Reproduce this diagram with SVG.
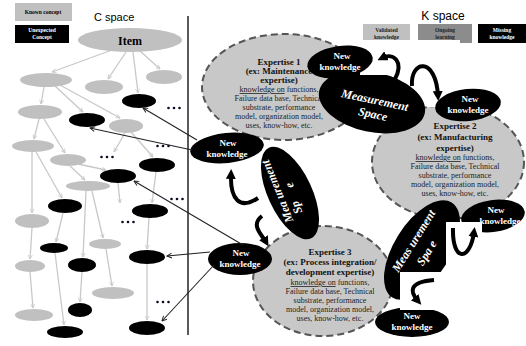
<svg xmlns="http://www.w3.org/2000/svg" width="526" height="346" viewBox="0 0 526 346">
<defs>
<marker id="ga" viewBox="0 0 10 10" refX="9" refY="5" markerWidth="5" markerHeight="5" orient="auto" markerUnits="userSpaceOnUse"><path d="M1,1 L9,5 L1,9" fill="none" stroke="#c8c8c8" stroke-width="1.6"/></marker>
<marker id="ba" viewBox="0 0 10 10" refX="9" refY="5" markerWidth="6" markerHeight="6" orient="auto" markerUnits="userSpaceOnUse"><path d="M1,1 L9,5 L1,9" fill="none" stroke="#222" stroke-width="1.6"/></marker>
<marker id="ta" viewBox="0 0 10 10" refX="5" refY="5" markerWidth="10" markerHeight="10" orient="auto" markerUnits="userSpaceOnUse"><path d="M0,0 L10,5 L0,10 Z" fill="#000"/></marker>
</defs>
<style>
.kc{fill:#c0c0c0}
.uc{fill:#000}
.ca{stroke:#c8c8c8;stroke-width:1.3;fill:none;marker-end:url(#ga)}
.ka{stroke:#222;stroke-width:1.1;fill:none;marker-end:url(#ba)}
.cv{stroke:#000;stroke-width:4;fill:none;marker-end:url(#ta)}
.exp{fill:#c8c8c8;stroke:#555;stroke-width:2;stroke-dasharray:7 4}
.sans{font-family:"Liberation Sans",Arial,sans-serif;fill:#000}
.lg{font-family:"Liberation Serif",serif;font-weight:bold;font-size:5.5px;text-anchor:middle}
.nkt{font-family:"Liberation Serif",serif;font-weight:bold;font-size:9px;fill:#fff;text-anchor:middle}
.eh{font-family:"Liberation Serif",serif;font-weight:bold;font-size:9px;fill:#111;text-anchor:middle}
.eb{font-family:"Liberation Serif",serif;font-size:8px;fill:#222;text-anchor:middle}
.ms{font-family:"Liberation Serif",serif;font-weight:bold;font-style:italic;font-size:12px;fill:#fff;text-anchor:middle}
.dot{fill:#0a0a20}
</style>
<rect width="526" height="346" fill="#fff"/>

<g id="legend-c">
<rect x="15" y="3" width="57" height="18" fill="#c0c0c0"/>
<text class="lg" x="43" y="14" fill="#000">Known concept</text>
<rect x="15" y="25" width="54" height="18" fill="#000"/>
<text class="lg" x="42" y="32" fill="#fff">Unexpected</text>
<text class="lg" x="42" y="39" fill="#fff">Concept</text>
</g>
<text class="sans" x="94" y="21" font-size="11">C space</text>
<line x1="188" y1="16" x2="188" y2="335" stroke="#000" stroke-width="1.3"/>

<g id="c-connectors">
<line class="ca" x1="112" y1="50" x2="52" y2="72"/>
<line class="ca" x1="126" y1="52" x2="108" y2="79"/>
<line class="ca" x1="133" y1="52" x2="138" y2="93"/>
<line class="ca" x1="140" y1="51" x2="160" y2="69"/>
<line class="ca" x1="44" y1="87" x2="41" y2="104"/>
<line class="ca" x1="55" y1="86" x2="83" y2="112"/>
<line class="ca" x1="60" y1="85" x2="120" y2="118"/>
<line class="ca" x1="39" y1="119" x2="34" y2="139"/>
<line class="ca" x1="44" y1="119" x2="65" y2="153"/>
<line class="ca" x1="125" y1="133" x2="114" y2="152"/>
<line class="ca" x1="131" y1="132" x2="153" y2="157"/>
<line class="ca" x1="32" y1="152" x2="32" y2="213"/>
<line class="ca" x1="36" y1="152" x2="62" y2="198"/>
<line class="ca" x1="78" y1="164" x2="106" y2="170"/>
<line class="ca" x1="70" y1="166" x2="85" y2="180"/>
<line class="ca" x1="118" y1="183" x2="120" y2="203"/>
<line class="ca" x1="156" y1="172" x2="152" y2="203"/>
<line class="ca" x1="86" y1="191" x2="83" y2="257"/>
<line class="ca" x1="92" y1="191" x2="103" y2="238"/>
<line class="ca" x1="63" y1="213" x2="56" y2="242"/>
<line class="ca" x1="32" y1="228" x2="30" y2="259"/>
<line class="ca" x1="30" y1="272" x2="33" y2="308"/>
<line class="ca" x1="55" y1="253" x2="64" y2="325"/>
<line class="ca" x1="82" y1="272" x2="80" y2="302"/>
<line class="ca" x1="106" y1="249" x2="112" y2="286"/>
<line class="ca" x1="149" y1="218" x2="147" y2="249"/>
<line class="ca" x1="147" y1="264" x2="147" y2="320"/>
</g>

<g id="c-nodes">
<g id="item"><ellipse cx="130" cy="40" rx="52" ry="12" class="kc"/><text x="130" y="45" font-family="Liberation Serif,serif" font-weight="bold" font-size="12" text-anchor="middle">Item</text></g>
<ellipse id="c1" cx="46" cy="80" rx="26" ry="7" class="kc"/>
<ellipse id="c2" cx="104" cy="87" rx="19" ry="7" class="kc"/>
<ellipse id="c3" cx="164" cy="77" rx="18" ry="7" class="kc"/>
<ellipse id="c4" cx="139" cy="101" rx="17" ry="7" class="uc"/>
<ellipse id="c5" cx="40" cy="112" rx="22" ry="7" class="kc"/>
<ellipse id="c6" cx="87" cy="120" rx="18" ry="7" class="uc"/>
<ellipse id="c7" cx="126" cy="126" rx="17" ry="7" class="kc"/>
<ellipse id="c8" cx="33" cy="146" rx="21" ry="6" class="kc"/>
<ellipse id="c9" cx="68" cy="160" rx="18" ry="6" class="kc"/>
<ellipse id="c10" cx="157" cy="165" rx="18" ry="7" class="uc"/>
<ellipse id="c11" cx="118" cy="176" rx="18" ry="7" class="uc"/>
<ellipse id="c12" cx="88" cy="186" rx="22" ry="5" class="kc"/>
<ellipse id="c13" cx="65" cy="206" rx="17" ry="7" class="uc"/>
<ellipse id="c14" cx="150" cy="211" rx="18" ry="7" class="uc"/>
<ellipse id="c15" cx="32" cy="221" rx="17" ry="7" class="kc"/>
<ellipse id="c16" cx="54" cy="248" rx="14" ry="5" class="uc"/>
<ellipse id="c17" cx="105" cy="244" rx="16" ry="5" class="kc"/>
<ellipse id="c18" cx="147" cy="257" rx="18" ry="7" class="uc"/>
<ellipse id="c19" cx="30" cy="266" rx="15" ry="6" class="kc"/>
<ellipse id="c20" cx="82" cy="265" rx="14" ry="7" class="uc"/>
<ellipse id="c21" cx="113" cy="293" rx="21" ry="6" class="kc"/>
<ellipse id="c22" cx="34" cy="315" rx="19" ry="6" class="kc"/>
<ellipse id="c23" cx="80" cy="310" rx="12" ry="7" class="uc"/>
<ellipse id="c24" cx="65" cy="332" rx="18" ry="6" class="uc"/>
<ellipse id="c25" cx="147" cy="328" rx="18" ry="7" class="uc"/>
</g>

<g id="dots">
<g transform="translate(174,108)"><circle cx="-5.5" cy="0" r="1.3" class="dot"/><circle cx="0" cy="0" r="1.3" class="dot"/><circle cx="5.5" cy="0" r="1.3" class="dot"/></g>
<g transform="translate(163,146)"><circle cx="-5.5" cy="0" r="1.3" class="dot"/><circle cx="0" cy="0" r="1.3" class="dot"/><circle cx="5.5" cy="0" r="1.3" class="dot"/></g>
<g transform="translate(107,157)"><circle cx="-5.5" cy="0" r="1.3" class="dot"/><circle cx="0" cy="0" r="1.3" class="dot"/><circle cx="5.5" cy="0" r="1.3" class="dot"/></g>
<g transform="translate(177,199)"><circle cx="-5.5" cy="0" r="1.3" class="dot"/><circle cx="0" cy="0" r="1.3" class="dot"/><circle cx="5.5" cy="0" r="1.3" class="dot"/></g>
<g transform="translate(128,222)"><circle cx="-5.5" cy="0" r="1.3" class="dot"/><circle cx="0" cy="0" r="1.3" class="dot"/><circle cx="5.5" cy="0" r="1.3" class="dot"/></g>
<g transform="translate(163,302)"><circle cx="-5.5" cy="0" r="1.3" class="dot"/><circle cx="0" cy="0" r="1.3" class="dot"/><circle cx="5.5" cy="0" r="1.3" class="dot"/></g>
</g>

<g id="legend-k">
<text class="sans" x="443" y="20" font-size="12" text-anchor="middle">K space</text>
<rect x="363" y="24" width="47" height="19" fill="#c0c0c0"/>
<text class="lg" x="386.5" y="32" fill="#222">Validated</text>
<text class="lg" x="386.5" y="39" fill="#222">knowledge</text>
<rect x="418" y="24" width="54" height="19" fill="#8c8c8c"/>
<text class="lg" x="445" y="32" fill="#222">Ongoing</text>
<text class="lg" x="445" y="39" fill="#222">learning</text>
<rect x="478" y="24" width="48" height="19" fill="#000"/>
<text class="lg" x="502" y="32" fill="#fff">Missing</text>
<text class="lg" x="502" y="39" fill="#fff">knowledge</text>
</g>

<g id="expertise1">
<ellipse cx="284" cy="87" rx="82" ry="53" class="exp"/>
<text class="eh" x="279" y="65">Expertise 1</text>
<text class="eh" x="279" y="74">(ex: Maintenance</text>
<text class="eh" x="279" y="83">expertise)</text>
<text class="eb" x="279" y="92"><tspan text-decoration="underline">knowledge on</tspan> functions,</text>
<text class="eb" x="279" y="101">Failure data base, Technical</text>
<text class="eb" x="279" y="110">substrate, performance</text>
<text class="eb" x="279" y="119">model, organization model,</text>
<text class="eb" x="279" y="128">uses, know-how, etc.</text>
</g>
<g id="expertise2">
<ellipse cx="448" cy="162" rx="76" ry="57" class="exp"/>
<text class="eh" x="455" y="129">Expertise 2</text>
<text class="eh" x="455" y="140">(ex: Manufacturing</text>
<text class="eh" x="455" y="151">expertise)</text>
<text class="eb" x="455" y="160"><tspan text-decoration="underline">knowledge on</tspan> functions,</text>
<text class="eb" x="455" y="169">Failure data base, Technical</text>
<text class="eb" x="455" y="178">substrate, performance</text>
<text class="eb" x="455" y="187">model, organization model,</text>
<text class="eb" x="455" y="196">uses, know-how, etc.</text>
</g>
<g id="expertise3">
<ellipse cx="323" cy="281" rx="70" ry="55" class="exp"/>
<text class="eh" x="330" y="255">Expertise 3</text>
<text class="eh" x="330" y="265">(ex: Process integration/</text>
<text class="eh" x="330" y="275">development expertise)</text>
<text class="eb" x="330" y="285"><tspan text-decoration="underline">knowledge on</tspan> functions,</text>
<text class="eb" x="330" y="294">Failure data base, Technical</text>
<text class="eb" x="330" y="303">substrate, performance</text>
<text class="eb" x="330" y="312">model, organization model,</text>
<text class="eb" x="330" y="321">uses, know-how, etc.</text>
</g>

<g id="ms1">
<ellipse cx="372" cy="102" rx="54" ry="30" transform="rotate(12 372 102)" fill="#000"/>
<rect x="360" y="40" width="100" height="35" fill="#fff"/>
<rect x="427" y="40" width="30" height="67" fill="#fff"/>
<text class="ms" transform="translate(374,104) rotate(12)">Measurement</text>
<text class="ms" transform="translate(372,118) rotate(12)">Space</text>
</g>
<g id="nk-top"><ellipse cx="340" cy="62" rx="33" ry="16" transform="rotate(-8 340 62)" fill="#000"/><text class="nkt" x="342" y="59">New</text><text class="nkt" x="340" y="70">knowledge</text></g>
<g id="nk2"><ellipse cx="468" cy="105" rx="33" ry="16" transform="rotate(-6 468 105)" fill="#000"/><text class="nkt" x="470" y="102">New</text><text class="nkt" x="468" y="113">knowledge</text></g>

<g id="ms2">
<ellipse cx="290" cy="193" rx="50" ry="22" transform="rotate(65 290 193)" fill="#000"/>
<text class="ms" transform="translate(281,190) rotate(-112)">Mea urement</text>
<text class="ms" transform="translate(300,206) rotate(-112)" text-anchor="start">Sp</text>
<text class="ms" transform="translate(293,184) rotate(-112)" text-anchor="start">e</text>
</g>
<g id="nk1"><ellipse cx="227" cy="148" rx="37" ry="15" transform="rotate(-6 227 148)" fill="#000"/><text class="nkt" x="228" y="146">New</text><text class="nkt" x="227" y="157">knowledge</text></g>
<g id="nk3"><ellipse cx="240" cy="259" rx="32" ry="16" fill="#000"/><text class="nkt" x="241" y="256">New</text><text class="nkt" x="240" y="267">knowledge</text></g>

<g id="ms3">
<ellipse cx="422" cy="250" rx="56" ry="28" transform="rotate(-58 422 250)" fill="#000"/>
<text class="ms" transform="translate(417,243) rotate(-58)">Meas urement</text>
<text class="ms" transform="translate(430,255) rotate(-58)">Spa e</text>
</g>
<g id="nk4"><ellipse cx="493" cy="216" rx="32" ry="16" transform="rotate(-8 493 216)" fill="#000"/><text class="nkt" x="496" y="213">New</text><text class="nkt" x="500" y="224">knowledge</text></g>
<g id="nk5"><ellipse cx="412" cy="322" rx="37" ry="15" fill="#000"/><text class="nkt" x="412" y="319">New</text><text class="nkt" x="412" y="330">knowledge</text></g>

<g id="k-connectors">
<rect x="446" y="222" width="36" height="45" fill="#fff"/>
<rect x="400" y="272" width="45" height="38" fill="#fff"/>
<path class="cv" d="M395,79 C404,62 394,52 382,58"/>
<path class="cv" d="M412,86 C410,60 436,56 438,96"/>
<path class="cv" d="M258,198 C240,210 230,200 231,174"/>
<path class="cv" d="M262,216 C250,225 262,235 266,242"/>
<path class="cv" d="M453,228 C452,262 470,262 474,232"/>
<path class="cv" d="M434,280 C408,282 410,292 418,301"/>
<line class="ka" x1="197" y1="140" x2="143" y2="108"/>
<line class="ka" x1="192" y1="150" x2="90" y2="128"/>
<line class="ka" x1="243" y1="245" x2="134" y2="181"/>
<line class="ka" x1="210" y1="252" x2="167" y2="256"/>
<line class="ka" x1="214" y1="265" x2="162" y2="321"/>
</g>
</svg>
